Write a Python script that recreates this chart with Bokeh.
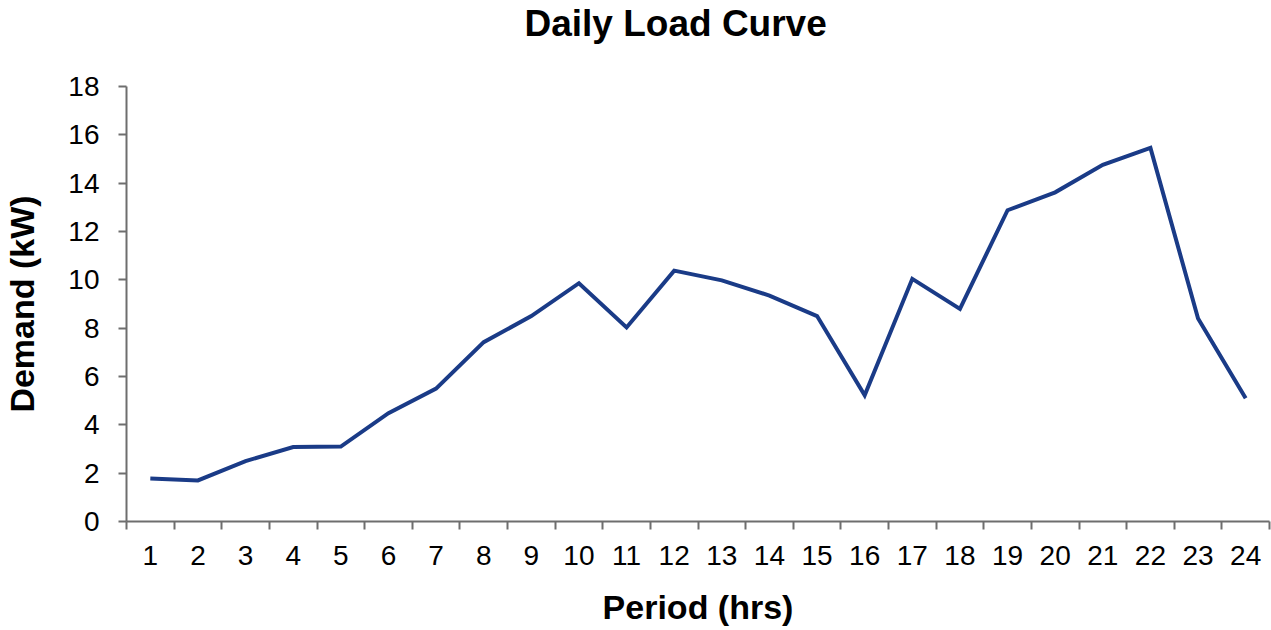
from bokeh.plotting import figure
from bokeh.models import FixedTicker, Range1d
from bokeh.embed import file_html
from bokeh.resources import INLINE

periods = list(range(1, 25))
demand = [1.78, 1.70, 2.50, 3.08, 3.10, 4.48, 5.50, 7.42, 8.50, 9.86,
          8.03, 10.38, 9.98, 9.35, 8.50, 5.22, 10.04, 8.80, 12.88, 13.62,
          14.76, 15.46, 8.40, 5.10]
y_ticks = list(range(0, 19, 2))
x_labels = [str(v) for v in periods]
title_text = "Daily Load Curve"

FONT = "Liberation Sans"
AXIS_COLOR = "#6e6e6e"

p = figure(width=1271, height=630, output_backend="svg", toolbar_location=None,
           x_range=Range1d(0.5, 24.5), y_range=Range1d(0, 18),
           min_border_left=124, min_border_right=2, min_border_top=86,
           min_border_bottom=109, title=title_text + "\n")

p.line(periods, demand, line_color="#1a3b87", line_width=4, line_join="miter")

p.title.align = "left"
p.title.vertical_align = "top"
p.title.offset = 398
p.title.standoff = 0
p.title.text_line_height = 1.0
p.title.text_font = FONT
p.title.text_font_size = "37px"
p.title.text_font_style = "bold"
p.title.text_color = "black"

p.grid.visible = False
p.outline_line_color = None

xa = p.xaxis[0]
xa.ticker = FixedTicker(ticks=periods, minor_ticks=[v + 0.5 for v in range(0, 25)])
xa.major_label_overrides = {v: s for v, s in zip(periods, x_labels)}
xa.major_tick_out = 8
xa.major_tick_in = 0
xa.major_tick_line_color = None
xa.minor_tick_out = 8
xa.minor_tick_in = 0
xa.minor_tick_line_color = AXIS_COLOR
xa.minor_tick_line_width = 2
xa.axis_line_color = AXIS_COLOR
xa.axis_line_width = 2
xa.major_label_text_font = FONT
xa.major_label_text_font_size = "28px"
xa.major_label_text_color = "black"
xa.major_label_standoff = 16
xa.axis_label = "Period (hrs)"
xa.axis_label_text_font = FONT
xa.axis_label_text_font_size = "34px"
xa.axis_label_text_font_style = "bold"
xa.axis_label_text_color = "black"
xa.axis_label_standoff = 20

ya = p.yaxis[0]
ya.ticker = FixedTicker(ticks=y_ticks, minor_ticks=[])
ya.major_tick_out = 8
ya.major_tick_in = 0
ya.major_tick_line_color = AXIS_COLOR
ya.major_tick_line_width = 2
ya.minor_tick_line_color = None
ya.axis_line_color = AXIS_COLOR
ya.axis_line_width = 2
ya.major_label_text_font = FONT
ya.major_label_text_font_size = "28px"
ya.major_label_text_color = "black"
ya.major_label_standoff = 19
ya.axis_label = "Demand (kW)"
ya.axis_label_text_font = FONT
ya.axis_label_text_font_size = "34px"
ya.axis_label_text_font_style = "bold"
ya.axis_label_text_color = "black"
ya.axis_label_standoff = 24

open("out.html", "w").write(file_html(p, INLINE))
